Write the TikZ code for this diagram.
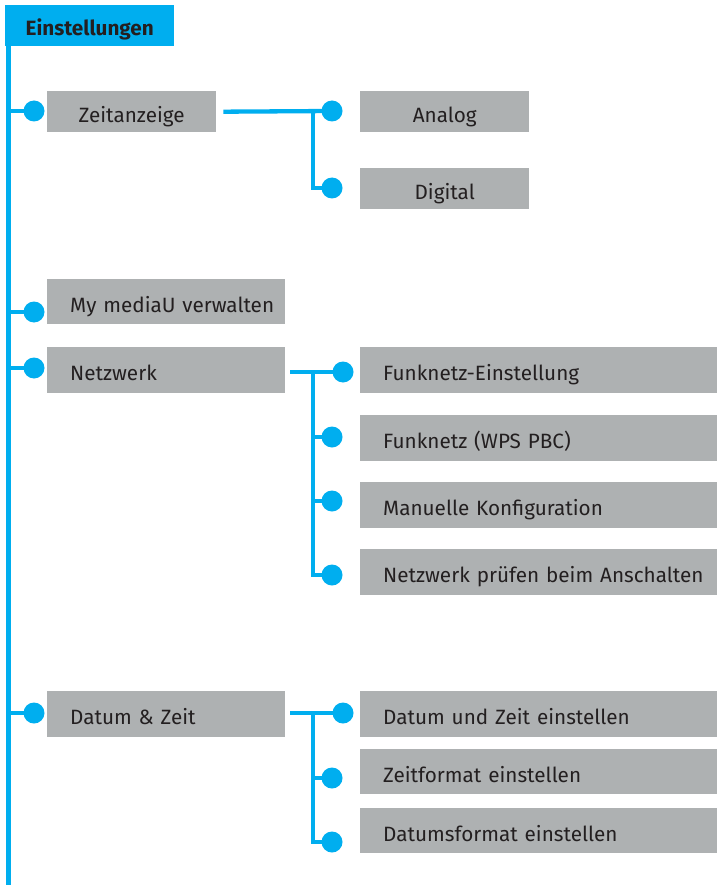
\documentclass[tikz,border=0pt]{standalone}
\usepackage{fontspec}
\setmainfont{Fira Sans}
\usepackage{xcolor}
\usepackage{tikz}
\usetikzlibrary{backgrounds}
\definecolor{menu_cyan}{RGB}{0,174,239}
\definecolor{menu_gray}{RGB}{174,177,178}
\definecolor{menu_text}{RGB}{35,31,32}
\tikzset{ head_box/.style = {rectangle, fill=menu_cyan, anchor=north west, inner sep=0pt, minimum width=169pt, minimum height=41pt, text height=20pt, text depth=0pt, font=\fontsize{20.7}{24}\selectfont\bfseries, text=menu_text} }
\tikzset{ item_box/.style = {rectangle, fill=menu_gray, anchor=north west, inner sep=0pt, minimum height=45pt, text height=21pt, text depth=0pt, font=\fontsize{20.7}{24}\selectfont, text=menu_text} }
\tikzset{ short_box/.style = {item_box, minimum width=169pt, minimum height=41pt} }
\tikzset{ mid_box/.style = {item_box, text width=238pt, align=left, execute at begin node={\hyphenpenalty=10000\relax\hspace*{23pt}}} }
\tikzset{ wide_box/.style = {item_box, text width=357pt, align=left, execute at begin node={\hyphenpenalty=10000\relax\hspace*{23pt}}} }
\tikzset{ knob/.style = {circle, fill=menu_cyan, minimum size=21pt, inner sep=0pt} }
\tikzset{ trunk/.style = {draw=menu_cyan, line width=4.7pt} }
\tikzset{ twig/.style = {draw=menu_cyan, line width=4.3pt} }

\begin{document}
\begin{tikzpicture}[x=1pt, y=-1pt]
\useasboundingbox (0,0) rectangle (717,885);
\node[head_box] (head) at (5,5) {Einstellungen};
\node[short_box] (zeit) at (47,91) {Zeitanzeige};
\node[short_box] (analog) at (360,91) {Analog};
\node[short_box] (digital) at (360,168) {Digital};
\node[mid_box] (media) at (47,279) {My mediaU verwalten};
\node[mid_box, minimum height=46pt] (netz) at (47,347) {Netzwerk};
\node[wide_box, minimum height=46pt] (funk) at (360,347) {Funknetz-Einstellung};
\node[wide_box, minimum height=46pt] (wps) at (360,415) {Funknetz (WPS PBC)};
\node[wide_box, minimum height=46pt] (manu) at (360,482) {Manuelle Konfiguration};
\node[wide_box, minimum height=46pt] (check) at (360,549) {Netzwerk prüfen beim Anschalten};
\node[mid_box, minimum height=46pt] (datum) at (47,691) {Datum \& Zeit};
\node[wide_box, minimum height=46pt] (dzset) at (360,691) {Datum und Zeit einstellen};
\node[wide_box] (zfmt) at (360,749) {Zeitformat einstellen};
\node[wide_box] (dfmt) at (360,808) {Datumsformat einstellen};
\coordinate (root) at (8.5,46);
\coordinate (foot) at (8.5,885);
\coordinate (zj) at (313,111);
\coordinate (nj) at (313,372);
\coordinate (dj) at (313,713);
\node[knob] (k_zeit) at (34,111) {};
\node[knob] (k_media) at (34,312) {};
\node[knob] (k_netz) at (34,368) {};
\node[knob] (k_datum) at (34,713) {};
\node[knob] (k_analog) at (332,111) {};
\node[knob] (k_digital) at (332,188) {};
\node[knob] (k_funk) at (343,372) {};
\node[knob] (k_wps) at (332,437) {};
\node[knob] (k_manu) at (332,501) {};
\node[knob] (k_check) at (332,575) {};
\node[knob] (k_dzset) at (343,713) {};
\node[knob] (k_zfmt) at (332,778) {};
\node[knob] (k_dfmt) at (332,842) {};
\begin{pgfonlayer}{background}
\draw[trunk] (root) -- (foot);
\draw[trunk] (k_zeit.center) -- (k_zeit.center -| root);
\draw[trunk] (k_media.center) -- (k_media.center -| root);
\draw[trunk] (k_netz.center) -- (k_netz.center -| root);
\draw[trunk] (k_datum.center) -- (k_datum.center -| root);
\draw[twig] ([xshift=7pt]zeit.east) -- (k_analog.center);
\draw[twig] (zj) |- (k_digital.center);
\draw[twig] ([xshift=5pt]netz.east |- k_funk) -- (k_funk.center);
\draw[twig] (nj) |- (k_wps.center);
\draw[twig] (nj) |- (k_manu.center);
\draw[twig] (nj) |- (k_check.center);
\draw[twig] ([xshift=5pt]datum.east |- k_dzset) -- (k_dzset.center);
\draw[twig] (dj) |- (k_zfmt.center);
\draw[twig] (dj) |- (k_dfmt.center);
\end{pgfonlayer}
\end{tikzpicture}
\end{document}
